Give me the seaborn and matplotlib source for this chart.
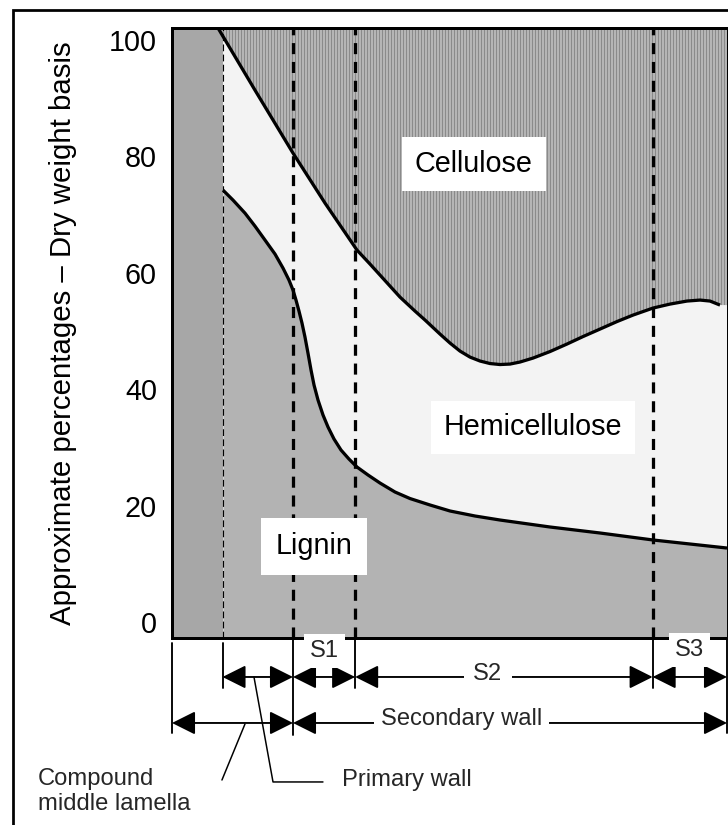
import numpy as np
import matplotlib
matplotlib.use("Agg")
import matplotlib.pyplot as plt
import matplotlib.transforms as mtransforms
from matplotlib.patches import Rectangle
import seaborn as sns

# ---------------- data ----------------
# x: relative position across the cell wall (0 = middle lamella side, 100 = lumen side)
cellulose_x = [8.29, 14.95, 21.80, 27.57, 33.33, 35.68, 37.48, 39.28, 41.08, 43.78, 45.59,
               48.29, 50.09, 51.89, 53.69, 55.50, 57.30, 59.10, 60.90, 62.70, 65.05, 68.11,
               71.17, 74.05, 77.12, 80.18, 83.06, 86.67, 89.73, 92.79, 95.14, 96.94, 98.74]
# boundary between hemicellulose (below) and cellulose (above), %
cellulose_boundary = [102.0, 91.33, 80.52, 71.93, 63.86, 61.46, 59.57, 57.68, 55.79, 53.39,
                      51.85, 49.44, 47.90, 46.52, 45.49, 44.81, 44.38, 44.21, 44.29, 44.64,
                      45.32, 46.44, 47.73, 49.01, 50.30, 51.59, 52.70, 53.91, 54.59, 55.11,
                      55.28, 55.11, 54.42]

lignin_x = [9.19, 10.99, 13.15, 14.95, 16.76, 18.56, 20.00, 21.08, 21.80, 22.34, 22.88,
            23.42, 23.96, 24.50, 25.05, 25.59, 26.31, 27.21, 28.11, 29.19, 30.45, 31.89,
            33.33, 35.32, 37.48, 40.18, 42.88, 46.49, 50.09, 54.59, 59.10, 68.11, 77.12,
            86.67, 93.33, 100.0]
# boundary between lignin (below) and hemicellulose (above), %
lignin_boundary = [74.16, 72.45, 70.21, 67.98, 65.58, 63.18, 60.77, 58.71, 57.00, 55.28,
                   53.39, 51.33, 48.93, 46.18, 43.26, 40.69, 38.11, 35.54, 33.48, 31.42,
                   29.53, 27.98, 26.61, 25.24, 23.86, 22.32, 21.20, 20.09, 19.06, 18.20,
                   17.51, 16.31, 15.28, 14.08, 13.39, 12.70]

# layer boundaries: CML | primary wall | S1 | S2 | S3
layer_edges = [0.0, 9.1, 21.8, 33.0, 86.6, 100.0]
layer_names = ["S1", "S2", "S3"]
region_labels = ["Cellulose", "Hemicellulose", "Lignin"]
yticks = [0, 20, 40, 60, 80, 100]
y_label = "Approximate percentages \u2013 Dry weight basis"

# ---------------- style ----------------
sns.set_theme(style="white")
plt.rcParams["font.family"] = ["Liberation Sans", "DejaVu Sans"]
plt.rcParams["hatch.linewidth"] = 1.8
plt.rcParams["hatch.color"] = "#8a8a8a"

DPI = 90
W, H = 728, 825
fig = plt.figure(figsize=(W / DPI, H / DPI), dpi=DPI)
fig.patch.set_facecolor("white")

ax = fig.add_axes([172 / W, (H - 638) / H, (727 - 172) / W, (638 - 28) / H])
Y_BOT, Y_TOP = -2.75, 102.0
X_MIN, X_MAX = layer_edges[0], layer_edges[-1]
ax.set_xlim(X_MIN, X_MAX)
ax.set_ylim(Y_BOT, Y_TOP)

# hemicellulose = background
ax.set_facecolor("#f3f3f3")

cx = np.array(cellulose_x)
cy = np.array(cellulose_boundary)
lx = np.array(lignin_x)
ly = np.array(lignin_boundary)

# cellulose (striped)
ax.fill_between(np.r_[cx, X_MAX], np.r_[cy, cy[-1]], Y_TOP, facecolor="white",
                edgecolor="#8a8a8a", hatch="|" * 5, linewidth=0, zorder=1)
# lignin
ax.fill_between(lx, Y_BOT, ly, color="#b3b3b3", linewidth=0, zorder=1)
# compound middle lamella column
ax.axvspan(layer_edges[0], layer_edges[1], color="#a7a7a7", linewidth=0, zorder=1.5)

# layer boundaries
ax.axvline(layer_edges[1], color="black", lw=0.9, dashes=(6, 3), zorder=2.6)
for e in layer_edges[2:5]:
    ax.axvline(e, color="black", lw=2.6, dashes=(3.4, 2.4), zorder=2.6)

# boundary curves
for xs, ys in [(cx, cy), (lx, ly)]:
    sns.lineplot(x=xs, y=ys, color="black", lw=2.6, ax=ax, sort=False, estimator=None,
                 zorder=3, solid_joinstyle="round", solid_capstyle="butt")

# region labels
label_pos = {"Cellulose": (54.4, 78.7), "Hemicellulose": (65.0, 33.4), "Lignin": (25.6, 13.0)}
label_pad = {"Cellulose": 0.45, "Hemicellulose": 0.45, "Lignin": 0.5}
for name in region_labels:
    x, y = label_pos[name]
    ax.text(x, y, name, ha="center", va="center", fontsize=23, color="black", zorder=5,
            bbox=dict(boxstyle=f"square,pad={label_pad[name]}", fc="white", ec="none"))

# axes
ax.set_xticks([])
ax.set_yticks(yticks)
ax.set_yticklabels([str(t) for t in yticks])
ax.tick_params(axis="y", length=0, pad=12, labelsize=23, colors="black")
ax.set_ylabel(y_label, fontsize=23.5, color="black", va="center")
ax.yaxis.set_label_coords(-0.196, 0.5)
for s in ["left", "top", "bottom"]:
    ax.spines[s].set_linewidth(2.4)
    ax.spines[s].set_color("black")
ax.spines["right"].set_linewidth(0.8)
ax.spines["right"].set_color("black")

# ---------------- layer dimension annotations ----------------
trans = mtransforms.blended_transform_factory(ax.transData, ax.transAxes)
e = layer_edges
ROW1, ROW2 = -0.0639, -0.1393

def vtick(x, y0, y1):
    ax.plot([x, x], [y0, y1], transform=trans, clip_on=False, color="black", lw=1.5, zorder=4)

vtick(e[0], -0.008, -0.1557)
vtick(e[1], -0.008, -0.082)
vtick(e[2], 0.0, -0.159)
vtick(e[3], -0.003, -0.082)
vtick(e[4], 0.0, -0.082)
vtick(e[5], 0.0, -0.1557)

def darrow(x0, x1, y):
    ax.annotate("", xy=(x1, y), xytext=(x0, y), xycoords=trans, textcoords=trans,
                arrowprops=dict(arrowstyle="<|-|>,head_length=1.0,head_width=0.5",
                                mutation_scale=16, lw=1.5, color="black",
                                shrinkA=0, shrinkB=0),
                annotation_clip=False, zorder=4)

for a, b in [(e[1], e[2]), (e[2], e[3]), (e[3], e[4]), (e[4], e[5])]:
    darrow(a, b, ROW1)
darrow(e[0], e[2], ROW2)
darrow(e[2], e[5], ROW2)

small = 19
ax.text((e[2] + e[3]) / 2, -0.021, layer_names[0], transform=trans, ha="center", va="center",
        fontsize=small, clip_on=False, zorder=6,
        bbox=dict(boxstyle="square,pad=0.25", fc="white", ec="none"))
ax.text((e[4] + e[5]) / 2, -0.020, layer_names[2], transform=trans, ha="center", va="center",
        fontsize=small, clip_on=False, zorder=6,
        bbox=dict(boxstyle="square,pad=0.25", fc="white", ec="none"))
ax.text(56.9, -0.0582, layer_names[1], transform=trans, ha="center", va="center",
        fontsize=small, clip_on=False, zorder=6,
        bbox=dict(boxstyle="square,pad=0.4", fc="white", ec="none"))
ax.text(52.2, -0.132, "Secondary wall", transform=trans, ha="center", va="center",
        fontsize=small, clip_on=False, zorder=6,
        bbox=dict(boxstyle="square,pad=0.3", fc="white", ec="none"))

# leader lines and wall-layer names
ax.plot([9.0, 13.15], [-0.2328, -0.141], transform=trans, clip_on=False, color="black", lw=1.2)
ax.plot([14.77, 18.2, 27.2], [-0.0639, -0.236, -0.236], transform=trans, clip_on=False,
        color="black", lw=1.2)
ax.text(-24.1, -0.241, "Compound", transform=trans, ha="left", va="baseline",
        fontsize=small, clip_on=False)
ax.text(-24.1, -0.282, "middle lamella", transform=trans, ha="left", va="baseline",
        fontsize=small, clip_on=False)
ax.text(30.6, -0.2426, "Primary wall", transform=trans, ha="left", va="baseline",
        fontsize=small, clip_on=False)

# outer frame
fig.add_artist(Rectangle((13.3 / W, -0.01), 2.0, 1 - 9.5 / H + 0.01, transform=fig.transFigure,
                         fill=False, ec="black", lw=2.2))

fig.savefig("out.png", dpi=DPI)
